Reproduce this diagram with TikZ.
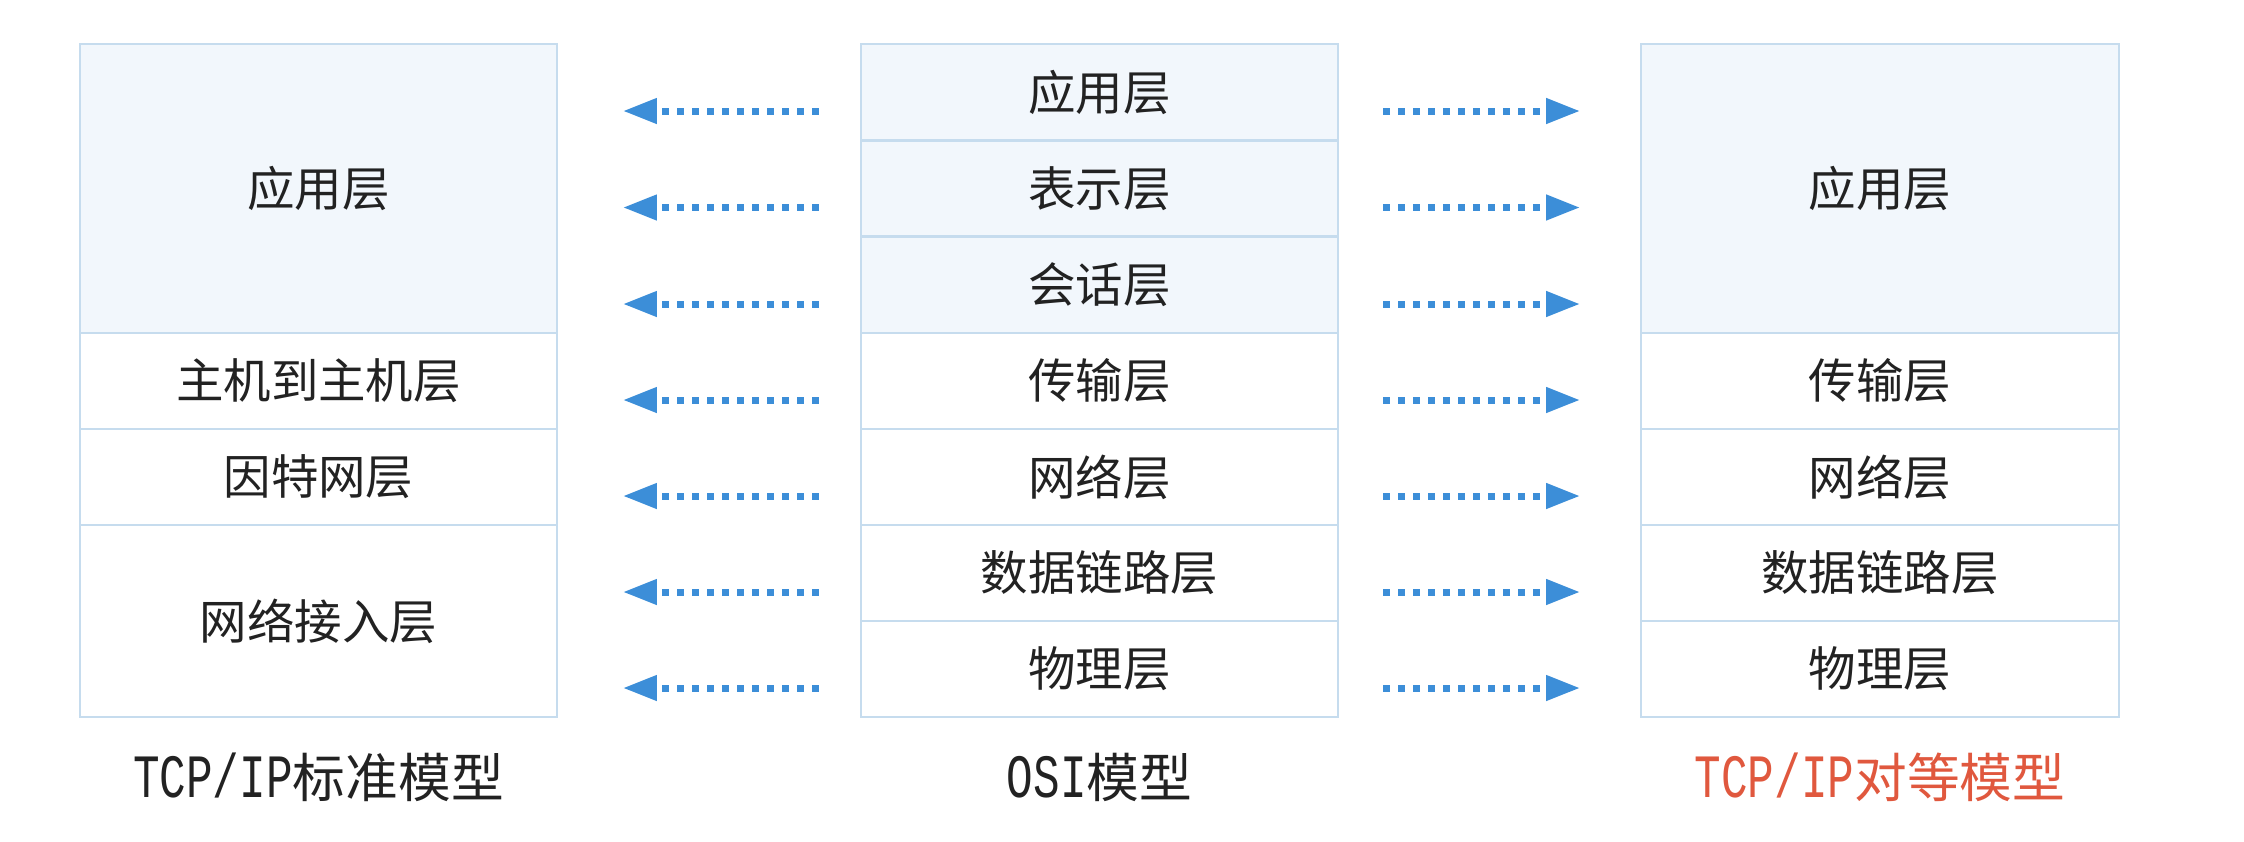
\documentclass[tikz,border=0pt]{standalone}
\usepackage{fontspec}
\setmainfont{Noto Sans CJK SC}
\newfontfamily\latmono[FakeStretch=0.72]{Liberation Mono}
\usetikzlibrary{arrows.meta}
\definecolor{bordercol}{HTML}{C6DCEE}
\definecolor{lightfill}{HTML}{F2F7FC}
\definecolor{arrowblue}{HTML}{3C8ED8}
\definecolor{labelred}{HTML}{E0583E}
\definecolor{inkcol}{HTML}{222222}
\begin{document}
\begin{tikzpicture}[x=0.01cm,y=-0.01cm,
  layer/.style={draw=bordercol, line width=0.6pt, inner sep=0pt, fill=white,
    minimum width=4.77cm, minimum height=0.96cm,
    font=\fontsize{13.5pt}{16pt}\selectfont, text=inkcol},
  toplayer/.style={layer, fill=lightfill},
  caption/.style={inner sep=0pt, font=\fontsize{15pt}{18pt}\selectfont, text=inkcol},
  peerarrow/.style={draw=arrowblue, line width=0.07cm, dash pattern=on 0.07cm off 0.08cm,
    -{Triangle[length=0.34cm, width=0.24cm, fill=arrowblue]}}
]
\useasboundingbox (0,0) rectangle (2244,842);

% TCP/IP standard model
\node[toplayer, minimum height=2.89cm] (L1) at (318.5,188.5) {应用层};
\node[layer] (L2) at (318.5,381) {主机到主机层};
\node[layer] (L3) at (318.5,477) {因特网层};
\node[layer, minimum height=1.92cm] (L4) at (318.5,621) {网络接入层};

% OSI model
\node[toplayer] (M1) at (1099.5,92) {应用层};
\node[toplayer] (M2) at (1099.5,188.5) {表示层};
\node[toplayer] (M3) at (1099.5,285) {会话层};
\node[layer] (M4) at (1099.5,381) {传输层};
\node[layer] (M5) at (1099.5,477) {网络层};
\node[layer] (M6) at (1099.5,573) {数据链路层};
\node[layer] (M7) at (1099.5,669) {物理层};

% TCP/IP peer model
\node[toplayer, minimum height=2.89cm] (R1) at (1880,188.5) {应用层};
\node[layer] (R2) at (1880,381) {传输层};
\node[layer] (R3) at (1880,477) {网络层};
\node[layer] (R4) at (1880,573) {数据链路层};
\node[layer] (R5) at (1880,669) {物理层};

% captions
\node[caption] (C1) at (318.5,777) {{\latmono\fontsize{17.5pt}{18pt}\selectfont TCP/IP}标准模型};
\node[caption] (C2) at (1099.5,777) {{\latmono\fontsize{17.5pt}{18pt}\selectfont OSI}模型};
\node[caption, text=labelred] (C3) at (1880,777) {{\latmono\fontsize{17.5pt}{18pt}\selectfont TCP/IP}对等模型};

% arrows
\foreach \m in {M1,M2,M3,M4,M5,M6,M7}{
  \draw[peerarrow] ([shift={(-41,19)}]\m.west) -- ([shift={(-237,19)}]\m.west);
  \draw[peerarrow] ([shift={(44,19)}]\m.east) -- ([shift={(241,19)}]\m.east);
}
\end{tikzpicture}
\end{document}
